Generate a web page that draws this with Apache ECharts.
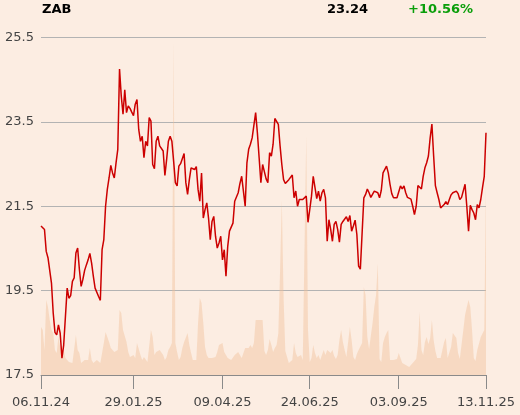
<!DOCTYPE html>
<html><head><meta charset="utf-8">
<script src="https://cdn.jsdelivr.net/npm/echarts@6/dist/echarts.min.js"></script>
<style>html,body{margin:0;padding:0;background:#FCEDE2;}#c{width:520px;height:415px;}</style>
</head><body><div id="c"></div>
<script>
const ticker = 'ZAB';
const lastPrice = '23.24';
const changePct = '+10.56%';
const yTicks = [17.5, 19.5, 21.5, 23.5, 25.5];
const xTickIndex = [0, 53, 104, 154, 205, 255];
const xTickLabels = ['06.11.24', '29.01.25', '09.04.25', '24.06.25', '03.09.25', '13.11.25'];

const prices = [
21.03,21.01,20.95,20.43,20.28,20.29,19.68,18.97,18.51,18.45,
18.69,18.49,17.90,18.21,18.25,19.56,19.32,19.38,19.72,19.80,
20.39,20.51,20.00,19.60,19.77,19.98,20.11,20.23,20.38,20.15,
19.84,19.56,19.54,19.36,19.27,20.47,20.71,21.50,21.90,22.17,
22.47,22.29,22.17,22.53,22.85,24.75,24.11,23.68,24.26,23.72,
23.88,23.82,23.73,23.65,23.92,24.03,23.32,23.04,23.16,22.65,
23.04,22.93,23.60,23.52,22.49,22.39,23.04,23.16,22.93,22.97,
22.81,22.23,22.61,23.04,23.16,23.04,22.57,22.06,21.98,22.45,
22.51,22.55,22.75,22.06,21.78,22.13,22.41,22.45,22.37,22.44,
21.90,21.62,22.29,21.22,21.42,21.58,21.22,20.71,21.14,21.26,
20.79,20.51,20.63,20.79,20.23,20.47,19.84,20.55,20.91,20.94,
21.10,21.62,21.72,21.82,22.04,22.21,22.21,21.50,22.53,22.85,
22.97,23.12,23.16,23.72,23.24,22.65,22.06,22.49,22.47,22.15,
22.06,22.77,22.69,22.97,23.58,23.54,23.44,22.93,22.49,22.13,
22.04,22.04,22.13,22.15,22.24,21.70,21.86,21.50,21.66,21.70,
21.66,21.70,21.74,21.12,21.42,21.74,22.21,22.17,21.68,21.86,
21.62,21.82,21.90,21.70,20.67,21.18,20.95,20.67,21.07,21.14,
20.95,20.65,21.07,21.14,21.12,21.25,21.14,21.28,20.91,21.03,
21.17,20.83,20.08,20.01,20.00,21.70,21.78,21.91,21.82,21.71,
21.70,21.86,21.83,21.82,21.70,21.88,22.29,22.33,22.45,22.29,
22.02,21.80,21.70,21.72,21.70,21.66,21.98,21.91,21.98,21.82,
21.71,21.69,21.67,21.50,21.30,21.50,21.99,21.96,21.91,22.21,
22.41,22.53,22.69,23.12,23.45,22.69,21.99,21.82,21.66,21.46,
21.42,21.54,21.61,21.54,21.66,21.77,21.82,21.82,21.86,21.80,
21.66,21.71,21.75,22.02,21.50,20.91,21.52,21.42,21.34,21.18,
21.54,21.46,21.66,21.94,22.21,23.24
];

const volumes = [
48,45,25,75,68,55,45,42,25,22,
38,28,15,25,17,15,13,12,12,13,
40,25,22,12,12,15,17,15,27,15,
12,13,15,17,12,12,32,43,42,33,
27,25,23,25,25,65,62,45,43,33,
23,18,17,20,17,32,30,20,15,18,
20,13,13,45,38,20,23,22,25,23,
20,15,18,25,28,32,335,32,23,15,
18,27,33,35,42,30,22,15,17,15,
52,77,72,52,28,20,17,15,17,15,
18,23,30,28,32,23,20,17,17,15,
17,20,22,23,20,17,22,27,28,27,
30,27,32,55,57,55,53,55,24,20,
25,36,30,23,27,30,42,105,175,78,
24,18,12,11,15,32,22,18,16,20,
15,15,240,45,13,17,30,22,17,20,
15,16,25,20,25,23,22,25,19,16,
20,35,45,33,25,18,20,48,35,18,
15,21,25,24,32,88,80,38,26,24,
52,68,80,112,16,13,32,38,42,45,
15,14,15,16,16,22,17,12,12,10,
10,8,10,12,12,16,30,63,25,20,
33,38,31,37,55,35,24,17,15,17,
25,33,37,17,16,28,42,44,37,22,
16,18,45,60,68,75,68,45,17,14,
25,27,38,40,45,192
];

const FONT = 'DejaVu Sans';
const idx = prices.map((_, i) => String(i));
const isTick = (i) => xTickIndex.indexOf(i) >= 0;

const chart = echarts.init(document.getElementById('c'), null, {renderer: 'canvas'});
chart.setOption({
  backgroundColor: '#FCEDE2',
  animation: false,
  textStyle: {fontFamily: FONT},
  title: [
    {text: ticker, left: 42, top: 3, padding: 0, textStyle: {fontSize: 13, fontWeight: 'bold', color: '#000', fontFamily: FONT}},
    {text: lastPrice, left: 327, top: 3, padding: 0, textStyle: {fontSize: 13, fontWeight: 'bold', color: '#000', fontFamily: FONT}},
    {text: changePct, left: 408, top: 3, padding: 0, textStyle: {fontSize: 13, fontWeight: 'bold', color: '#0A9E0A', fontFamily: FONT}}
  ],
  grid: {left: 41, right: 34, top: 37.5, bottom: 40, containLabel: false, outerBoundsMode: 'none'},
  xAxis: {
    type: 'category',
    data: idx,
    boundaryGap: false,
    axisLine: {show: true, lineStyle: {color: '#8a8a8a', width: 1}},
    axisTick: {show: true, length: 14, interval: (i) => isTick(i), lineStyle: {color: '#8a8a8a', width: 1}},
    axisLabel: {
      interval: (i) => isTick(i),
      margin: 21, fontSize: 13, color: '#444', fontFamily: FONT,
      formatter: (v, i) => { const k = xTickIndex.indexOf(Number(v)); return k >= 0 ? xTickLabels[k] : ''; }
    },
    splitLine: {show: false}
  },
  yAxis: [
    {
      type: 'value', min: yTicks[0], max: yTicks[yTicks.length - 1], interval: 2,
      axisLine: {show: false}, axisTick: {show: false},
      axisLabel: {margin: 7, fontSize: 13, color: '#444', fontFamily: FONT, formatter: (v) => v.toFixed(1)},
      splitLine: {show: true, lineStyle: {color: '#B3B3B3', width: 1}}
    },
    {type: 'value', min: 0, max: 338, show: false, splitLine: {show: false}}
  ],
  series: [
    {
      type: 'line', name: 'Volume', yAxisIndex: 1, data: volumes,
      symbol: 'none', silent: true, z: 1,
      lineStyle: {width: 0, opacity: 0},
      areaStyle: {color: 'rgba(240,190,150,0.42)', opacity: 1}
    },
    {
      type: 'line', name: ticker, yAxisIndex: 0, data: prices,
      symbol: 'none', z: 3,
      lineStyle: {color: '#CC0000', width: 1.5}
    }
  ]
});
</script>
</body></html>
